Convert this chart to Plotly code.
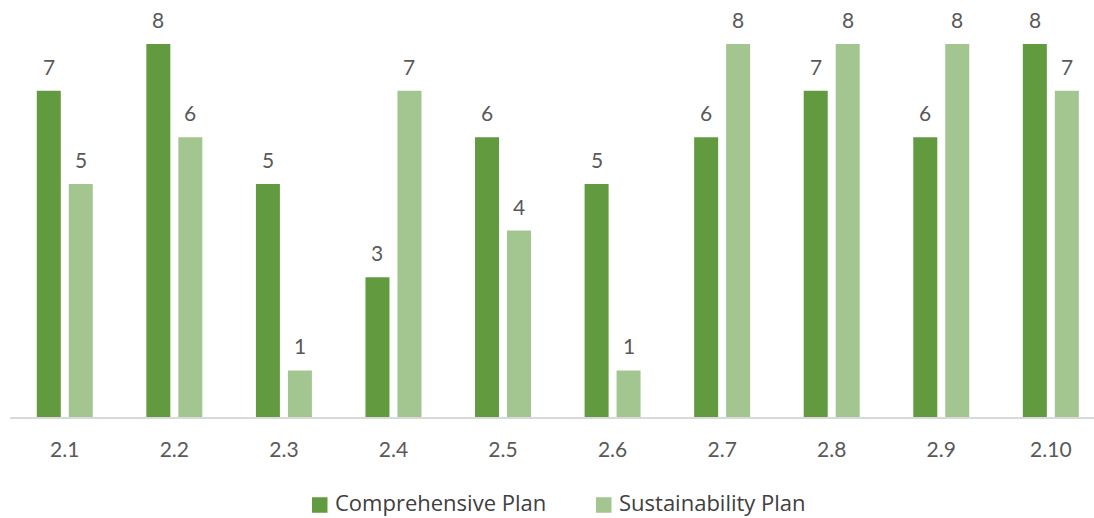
import plotly.graph_objects as go

categories = ["2.1", "2.2", "2.3", "2.4", "2.5", "2.6", "2.7", "2.8", "2.9", "2.10"]
comprehensive = [7, 8, 5, 3, 6, 5, 6, 7, 6, 8]
sustainability = [5, 6, 1, 7, 4, 1, 8, 8, 8, 7]

series_names = ["Comprehensive Plan", "Sustainability Plan"]
colors = ["#619A3F", "#A3C58F"]
text_color = "#595959"
font_family = "Lato, 'Open Sans', sans-serif"
legend_font = "'Open Sans', Lato, sans-serif"

W, H = 1094, 518
ML, MR, MT, MB = 10, 0, 10, 101
plot_w = W - ML - MR
plot_h = H - MT - MB

fig = go.Figure()
for name, vals, col in zip(series_names, [comprehensive, sustainability], colors):
    fig.add_trace(go.Bar(
        x=categories, y=vals, name=name,
        marker=dict(color=col, line=dict(width=0)),
        showlegend=False,
    ))

# value labels above each bar (x given as category index)
annotations = []
for vals, shift in [(comprehensive, -16), (sustainability, 16)]:
    for i, v in enumerate(vals):
        annotations.append(dict(
            x=i, y=v, xref="x", yref="y", text=str(v), showarrow=False,
            xshift=shift, yshift=10, yanchor="bottom",
            font=dict(size=21, color=text_color, family=font_family),
        ))

# legend below the plot: colour square plus series name
shapes = []
legend_items = [(312, series_names[0], colors[0]), (596, series_names[1], colors[1])]
sq_y = (MT + plot_h - 505) / plot_h   # paper y of square centres
txt_y = (MT + plot_h - 502) / plot_h  # paper y of legend text centres
sq = 15.5
for px, name, col in legend_items:
    x0 = (px - ML) / plot_w
    x1 = (px + sq - ML) / plot_w
    shapes.append(dict(
        type="rect", xref="paper", yref="paper",
        x0=x0, x1=x1, y0=sq_y - sq / 2 / plot_h, y1=sq_y + sq / 2 / plot_h,
        fillcolor=col, line=dict(width=0),
    ))
    annotations.append(dict(
        x=(px + sq + 5 - ML) / plot_w, y=txt_y, xref="paper", yref="paper",
        xanchor="left", yanchor="middle", text=name, showarrow=False,
        font=dict(size=22, color="#404040", family=legend_font),
    ))

fig.update_layout(
    width=W, height=H,
    margin=dict(l=ML, r=MR, t=MT, b=MB, autoexpand=False),
    paper_bgcolor="white", plot_bgcolor="white",
    barmode="group", bargap=0.416, bargroupgap=0.25,
    annotations=annotations, shapes=shapes,
    showlegend=False,
    xaxis=dict(
        type="category",
        range=[-0.5, 9.394], showgrid=False, showline=True,
        linecolor="#D9D9D9", linewidth=1.5, ticks="",
        tickfont=dict(size=21, color=text_color, family=font_family),
        ticklabelstandoff=13,
    ),
    yaxis=dict(range=[0, 8.73], visible=False, showgrid=False, zeroline=False),
)

fig.write_html("out.html")
